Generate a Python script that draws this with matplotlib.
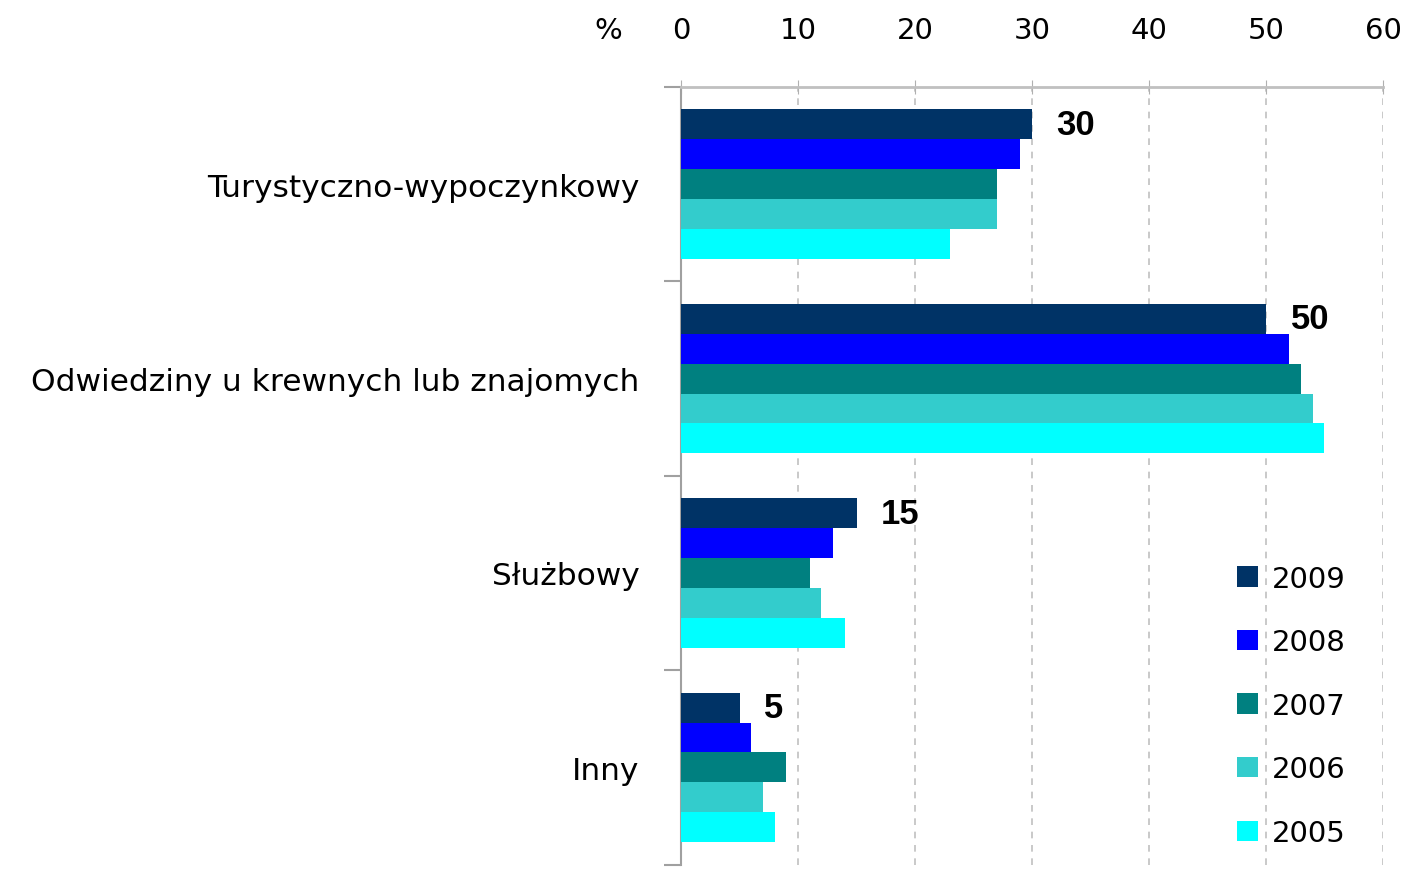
import numpy as np
import matplotlib.pyplot as plt
from matplotlib.ticker import MultipleLocator

# Data
categories = ['Turystyczno-wypoczynkowy', 'Odwiedziny u krewnych lub znajomych',
              'Służbowy', 'Inny']
years = ['2009', '2008', '2007', '2006', '2005']
v2009 = [30, 50, 15, 5]
v2008 = [29, 52, 13, 6]
v2007 = [27, 53, 11, 9]
v2006 = [27, 54, 12, 7]
v2005 = [23, 55, 14, 8]
series = [v2009, v2008, v2007, v2006, v2005]
colors = ['#003366', '#0000ff', '#008080', '#33cccc', '#00ffff']

fig = plt.figure(figsize=(14.08, 8.70), dpi=100)
ax = fig.add_axes([0.4837, 0.005, 0.4985, 0.894])

y = np.arange(len(categories))
h = 0.154
for k, (vals, col, yr) in enumerate(zip(series, colors, years)):
    ax.barh(y + (k - 2) * h, vals, height=h, color=col, label=yr, zorder=3)

# value labels only on 2009 bars
for i, v in enumerate(v2009):
    ax.text(v + 2.1, y[i] - 2 * h, str(v), ha='left', va='center',
            fontsize=25, fontweight='bold', family='Liberation Sans')

ax.set_xlim(0, 60)
ax.set_ylim(len(categories) - 0.5, -0.5)
ax.xaxis.set_major_locator(MultipleLocator(10))
ax.xaxis.tick_top()
ax.tick_params(axis='x', direction='inout', length=10, color='#b0b0b0',
               labelsize=21, pad=26)
ax.grid(axis='x', linestyle=(0, (4, 4)), color='#c0c0c0', linewidth=1.2, zorder=0)

ax.set_yticks(y)
ax.set_yticklabels(categories, fontsize=22.5)
ax.set_yticks(np.arange(len(categories) + 1) - 0.5, minor=True)
ax.tick_params(axis='y', which='major', length=0, pad=30)
ax.tick_params(axis='y', which='minor', length=12, color='#a0a0a0', width=1.5)

for s in ['right', 'bottom']:
    ax.spines[s].set_visible(False)
ax.spines['left'].set_color('#a0a0a0')
ax.spines['left'].set_linewidth(1.5)
ax.spines['top'].set_color('#c0c0c0')
ax.spines['top'].set_linewidth(2)

# "%" unit placed level with the top tick labels
fig.canvas.draw()
tl = ax.get_xticklabels()[0].get_window_extent()
ypos = ax.transAxes.inverted().transform((0, tl.y0))[1]
ax.text(-0.104, ypos, '%', transform=ax.transAxes, ha='center', va='bottom',
        fontsize=21)

ax.legend(loc='upper left', bbox_to_anchor=(0.86, 0.38),
          bbox_transform=fig.transFigure, frameon=False, fontsize=21,
          handlelength=0.7, handleheight=0.7, labelspacing=1.22,
          handletextpad=0.5)

fig.savefig('out.png', dpi=100)
